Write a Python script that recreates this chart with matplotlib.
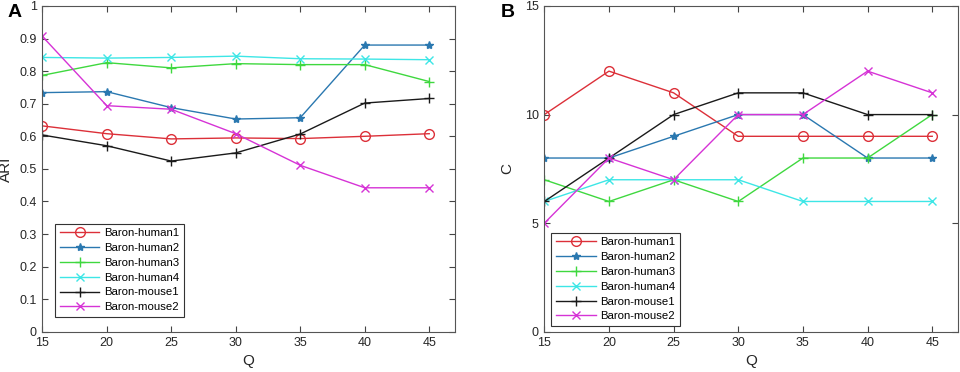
import matplotlib.pyplot as plt
import numpy as np

# --- DATA ---
Q = [15, 20, 25, 30, 35, 40, 45]
names = ['Baron-human1', 'Baron-human2', 'Baron-human3',
         'Baron-human4', 'Baron-mouse1', 'Baron-mouse2']

ari_human1 = [0.632, 0.608, 0.592, 0.595, 0.593, 0.600, 0.608]
ari_human2 = [0.734, 0.737, 0.688, 0.653, 0.657, 0.880, 0.880]
ari_human3 = [0.787, 0.826, 0.810, 0.823, 0.820, 0.820, 0.768]
ari_human4 = [0.842, 0.840, 0.842, 0.846, 0.838, 0.837, 0.835]
ari_mouse1 = [0.604, 0.571, 0.524, 0.549, 0.607, 0.702, 0.716]
ari_mouse2 = [0.907, 0.694, 0.683, 0.608, 0.511, 0.442, 0.442]

c_human1 = [10, 12, 11, 9, 9, 9, 9]
c_human2 = [8, 8, 9, 10, 10, 8, 8]
c_human3 = [7, 6, 7, 6, 8, 8, 10]
c_human4 = [6, 7, 7, 7, 6, 6, 6]
c_mouse1 = [6, 8, 10, 11, 11, 10, 10]
c_mouse2 = [5, 8, 7, 10, 10, 12, 11]

ari_tick_labels = ['0', '0.1', '0.2', '0.3', '0.4', '0.5', '0.6', '0.7', '0.8', '0.9', '1']

# --- STYLE ---
plt.rcParams['font.family'] = ['Liberation Sans', 'DejaVu Sans']
colors = ['#dc3039', '#2a78b0', '#3fd83f', '#3de6e6', '#1a1a1a', '#d633d6']
markers = ['o', '*', '+', 'x', '+', 'x']
msizes = [7, 6, 7, 5.5, 7, 5.5]
mfc = ['none', '#2a78b0', 'none', 'none', 'none', 'none']

fig = plt.figure(figsize=(9.6, 3.72), dpi=100)
axA = fig.add_axes([0.044, 0.108, 0.430, 0.876])
axB = fig.add_axes([0.567, 0.108, 0.431, 0.876])


def draw(ax, series, ylim, yticks, yticklabels, ylabel, leg_anchor, label_x):
    for s, n, col, m, ms, fc in zip(series, names, colors, markers, msizes, mfc):
        ax.plot(Q, s, color=col, marker=m, markersize=ms, markerfacecolor=fc,
                markeredgecolor=col, linewidth=1.0, markeredgewidth=1.0, label=n)
    ax.set_xlim(15, 47)
    ax.set_ylim(*ylim)
    ax.set_xticks(Q)
    ax.set_yticks(yticks)
    ax.set_yticklabels(yticklabels)
    ax.tick_params(direction='in', top=True, right=True, length=4, pad=4,
                   labelsize=9, colors='#444444', labelcolor='#262626')
    for sp in ax.spines.values():
        sp.set_color('#555555')
        sp.set_linewidth(0.8)
    ax.set_xlabel('Q', fontsize=11, color='#262626', labelpad=3)
    ax.set_ylabel(ylabel, fontsize=11, color='#262626')
    ax.yaxis.set_label_coords(label_x, 0.5)
    leg = ax.legend(loc='lower left', bbox_to_anchor=leg_anchor, borderaxespad=0,
                    fontsize=8.2, numpoints=1, handlelength=3.5, handletextpad=0.4,
                    borderpad=0.4, labelspacing=0.42, fancybox=False, framealpha=1)
    leg.get_frame().set_edgecolor('#333333')
    leg.get_frame().set_linewidth(0.8)


draw(axA, [ari_human1, ari_human2, ari_human3, ari_human4, ari_mouse1, ari_mouse2],
     (0, 1), np.arange(0, 1.01, 0.1), ari_tick_labels, 'ARI', (0.031, 0.046), -0.07)
draw(axB, [c_human1, c_human2, c_human3, c_human4, c_mouse1, c_mouse2],
     (0, 15), [0, 5, 10, 15], ['0', '5', '10', '15'], 'C', (0.017, 0.018), -0.072)

fig.text(0.008, 0.99, 'A', fontsize=14, fontweight='bold', va='top')
fig.text(0.522, 0.99, 'B', fontsize=14, fontweight='bold', va='top')

fig.savefig('out.png', dpi=100)
